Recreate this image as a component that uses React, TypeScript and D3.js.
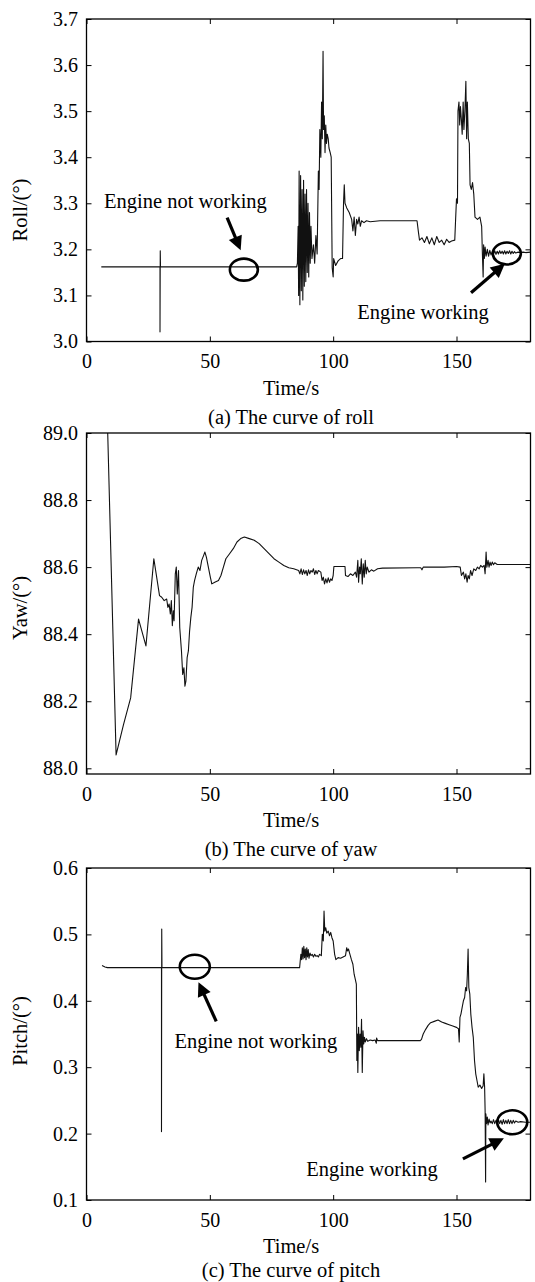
import React, { useEffect, useRef } from 'react';
import * as d3 from 'd3';

// tick values
const timeTicks = [0, 50, 100, 150];
const rollTicks = [3.0, 3.1, 3.2, 3.3, 3.4, 3.5, 3.6, 3.7];
const yawTicks = [88.0, 88.2, 88.4, 88.6, 88.8, 89.0];
const pitchTicks = [0.1, 0.2, 0.3, 0.4, 0.5, 0.6];

// [time (s), roll (deg)]
const rollSeries: [number, number][] = [
  [6, 3.162], [29.8, 3.162], [29.8, 3.021], [29.9, 3.197], [30, 3.162], [85.2, 3.162],
  [85.5, 3.17], [85.8, 3.25], [86.0, 3.1], [86.2, 3.37], [86.5, 3.08], [86.8, 3.36],
  [87.1, 3.11], [87.4, 3.33], [87.7, 3.09], [88.0, 3.35], [88.3, 3.12], [88.6, 3.32],
  [88.9, 3.13], [89.2, 3.33], [89.5, 3.15], [89.8, 3.3], [90.1, 3.14], [90.4, 3.28],
  [90.7, 3.17], [91.0, 3.25], [91.4, 3.18], [92.0, 3.21], [92.5, 3.17], [93.0, 3.23],
  [93.5, 3.19], [94.0, 3.37], [94.3, 3.33], [94.6, 3.46], [95.0, 3.4], [95.3, 3.52],
  [95.6, 3.44], [95.9, 3.63], [96.1, 3.46], [96.4, 3.49], [96.7, 3.41], [97.0, 3.47],
  [97.3, 3.43], [97.6, 3.45], [98.0, 3.44], [98.3, 3.42], [98.8, 3.41], [99.2, 3.4],
  [99.6, 3.16], [100, 3.14], [100.2, 3.18], [101, 3.165], [102, 3.175], [103, 3.18],
  [103.8, 3.18], [104.2, 3.3], [104.5, 3.34], [104.8, 3.3], [105.5, 3.29], [106.5, 3.28],
  [107.5, 3.265], [108, 3.24], [108.5, 3.27], [109, 3.23], [109.5, 3.265], [110, 3.255],
  [110.5, 3.27], [111, 3.25], [111.5, 3.262], [112.5, 3.258], [113.5, 3.262], [115, 3.26],
  [119, 3.262], [134, 3.262], [134.5, 3.24], [135, 3.22], [136, 3.225], [137, 3.215],
  [138, 3.228], [139, 3.212], [140, 3.225], [141, 3.21], [142, 3.228], [143, 3.215],
  [144, 3.22], [145, 3.21], [146, 3.222], [147, 3.215], [148, 3.218], [149.3, 3.22],
  [149.6, 3.26], [150.0, 3.31], [150.4, 3.3], [150.6, 3.5], [151, 3.52], [151.3, 3.47],
  [151.6, 3.51], [152, 3.48], [152.3, 3.45], [152.7, 3.52], [153, 3.46], [153.4, 3.5],
  [153.8, 3.565], [154.1, 3.44], [154.4, 3.52], [154.8, 3.44], [155.2, 3.43], [155.5, 3.34],
  [156, 3.33], [156.5, 3.345], [157, 3.32], [157.5, 3.27], [158.5, 3.265], [159.5, 3.27],
  [160.2, 3.25], [160.5, 3.19], [160.8, 3.14], [161.0, 3.21], [161.3, 3.18], [161.6, 3.205],
  [162, 3.185], [162.5, 3.2], [163, 3.185], [163.5, 3.198], [164, 3.188], [164.5, 3.195],
  [165, 3.19], [165.5, 3.197], [166, 3.189], [166.5, 3.196], [167, 3.19], [167.5, 3.197],
  [168, 3.191], [168.5, 3.196], [169, 3.19], [169.5, 3.197], [170, 3.19], [170.5, 3.196],
  [171, 3.191], [171.5, 3.197], [172, 3.19], [172.5, 3.196], [173, 3.191], [173.5, 3.195],
  [174, 3.192], [175, 3.194], [176, 3.193], [177, 3.194], [178, 3.193], [180, 3.194],
];

// [time (s), yaw (deg)]
const yawSeries: [number, number][] = [
  [8.6, 89.0], [12.0, 88.04], [15, 88.13], [17.9, 88.21], [21.1, 88.445], [24.1, 88.365],
  [27.3, 88.625], [29.6, 88.515], [30.5, 88.51], [31.5, 88.5], [32.5, 88.505], [33.0, 88.48],
  [33.5, 88.49], [34.0, 88.46], [34.4, 88.5], [34.8, 88.425], [35.2, 88.47], [35.5, 88.44],
  [36.0, 88.58], [36.4, 88.6], [36.8, 88.52], [37.3, 88.59], [37.8, 88.42], [38.5, 88.35],
  [39.0, 88.28], [39.5, 88.3], [39.9, 88.245], [40.3, 88.26], [40.8, 88.33], [41.3, 88.35],
  [41.8, 88.41], [42.3, 88.45], [42.8, 88.48], [43.3, 88.54], [43.8, 88.56], [44.5, 88.58],
  [45.3, 88.6], [46.0, 88.59], [46.7, 88.62], [47.5, 88.635], [48.0, 88.645], [48.6, 88.63],
  [49.4, 88.6], [50.2, 88.57], [50.8, 88.55], [52.0, 88.555], [53.5, 88.56], [54.5, 88.575],
  [55.5, 88.6], [56.5, 88.625], [58, 88.64], [59.5, 88.655], [61, 88.675], [62.5, 88.685],
  [64, 88.69], [66, 88.685], [68, 88.68], [70, 88.67], [72, 88.655], [74, 88.64],
  [76, 88.625], [78, 88.615], [80, 88.605], [82, 88.598], [84, 88.595], [86, 88.59],
  [86.5, 88.58], [87, 88.595], [87.5, 88.578], [88, 88.592], [88.5, 88.58], [89, 88.59],
  [89.5, 88.575], [90, 88.592], [90.5, 88.58], [91, 88.59], [91.5, 88.585], [92, 88.595],
  [92.5, 88.578], [93, 88.59], [93.5, 88.58], [94, 88.59], [95, 88.585], [95.5, 88.56],
  [96, 88.57], [96.5, 88.55], [97, 88.565], [97.5, 88.553], [98, 88.568], [98.5, 88.555],
  [99, 88.565], [99.5, 88.56], [100, 88.575], [100.3, 88.602], [104.8, 88.602], [105, 88.575],
  [106, 88.572], [107, 88.58], [108, 88.575], [109, 88.585], [109.5, 88.57], [110, 88.62],
  [110.3, 88.555], [110.7, 88.6], [111, 88.58], [111.4, 88.625], [111.8, 88.55], [112.2, 88.61],
  [112.6, 88.57], [113, 88.62], [113.4, 88.58], [113.8, 88.6], [114.5, 88.585], [115.5, 88.592],
  [116.5, 88.588], [118, 88.595], [120, 88.597], [134, 88.598], [135.5, 88.598], [136, 88.592],
  [136.5, 88.6], [145, 88.6], [150, 88.602], [151.5, 88.6], [152, 88.575], [152.8, 88.585],
  [153.3, 88.565], [153.8, 88.58], [154.3, 88.555], [154.7, 88.575], [155.2, 88.565], [155.7, 88.59],
  [156.3, 88.575], [157, 88.595], [157.8, 88.59], [158.5, 88.6], [159.2, 88.595], [159.8, 88.605],
  [160.5, 88.6], [161.2, 88.605], [161.6, 88.58], [162, 88.645], [162.3, 88.6], [162.8, 88.62],
  [163.2, 88.6], [163.6, 88.615], [164, 88.605], [164.5, 88.615], [165, 88.607], [165.5, 88.613],
  [166.5, 88.608], [180, 88.608],
];

// [time (s), pitch (deg)]
const pitchSeries: [number, number][] = [
  [6.3, 0.453], [7.5, 0.451], [8.5, 0.45], [30.4, 0.45], [30.4, 0.203], [30.5, 0.508],
  [30.6, 0.45], [86.4, 0.45], [86.6, 0.458], [86.9, 0.47], [87.2, 0.462], [87.5, 0.48],
  [87.8, 0.463], [88.1, 0.482], [88.4, 0.465], [88.7, 0.478], [89.0, 0.462], [89.3, 0.48],
  [89.6, 0.466], [89.9, 0.477], [90.2, 0.464], [90.6, 0.472], [91, 0.468], [91.5, 0.47],
  [92, 0.466], [92.5, 0.47], [93, 0.467], [93.5, 0.468], [94, 0.466], [94.5, 0.47],
  [95.2, 0.468], [95.6, 0.5], [96.0, 0.49], [96.3, 0.535], [96.6, 0.505], [97.0, 0.51],
  [97.4, 0.502], [98, 0.505], [98.5, 0.498], [99, 0.503], [99.5, 0.495], [100, 0.49],
  [100.6, 0.47], [101.1, 0.462], [102, 0.465], [103, 0.464], [104, 0.466], [105, 0.468],
  [105.5, 0.48], [105.8, 0.475], [106.2, 0.478], [106.8, 0.47], [107.4, 0.462], [108, 0.455],
  [108.5, 0.44], [109, 0.432], [109.4, 0.425], [109.6, 0.31], [109.8, 0.35], [110, 0.292],
  [110.3, 0.36], [110.6, 0.325], [110.9, 0.35], [111.2, 0.33], [111.5, 0.372], [111.8, 0.292],
  [112.1, 0.355], [112.4, 0.335], [112.7, 0.345], [113, 0.338], [113.5, 0.343], [114, 0.339],
  [115, 0.341], [116, 0.34], [117, 0.341], [117.5, 0.336], [117.6, 0.344], [118, 0.34],
  [135.3, 0.34], [135.8, 0.342], [136.5, 0.35], [137.5, 0.357], [138.5, 0.363], [139.5, 0.367],
  [141, 0.369], [142.5, 0.371], [144, 0.368], [145.5, 0.366], [147, 0.364], [148.5, 0.362],
  [150, 0.36], [150.8, 0.358], [151.1, 0.338], [151.4, 0.375], [151.8, 0.38], [152.3, 0.39],
  [152.8, 0.4], [153.3, 0.405], [153.7, 0.42], [154.1, 0.415], [154.4, 0.44], [154.7, 0.478],
  [155.0, 0.42], [155.4, 0.41], [155.8, 0.38], [156.3, 0.36], [156.8, 0.345], [157.3, 0.31],
  [157.8, 0.29], [158.3, 0.28], [158.8, 0.27], [159.5, 0.273], [160.2, 0.268], [160.8, 0.272],
  [161.1, 0.29], [161.4, 0.27], [161.6, 0.235], [161.8, 0.127], [161.9, 0.23], [162.2, 0.215],
  [162.5, 0.225], [162.8, 0.213], [163.2, 0.222], [163.6, 0.216], [164, 0.219], [164.5, 0.215],
  [165, 0.221], [165.5, 0.215], [166, 0.22], [166.5, 0.214], [167, 0.221], [167.5, 0.215],
  [168, 0.22], [168.5, 0.214], [169, 0.221], [169.5, 0.215], [170, 0.22], [170.5, 0.215],
  [171, 0.221], [171.5, 0.215], [172, 0.22], [172.5, 0.215], [173, 0.22], [173.5, 0.216],
  [174, 0.219], [175, 0.217], [176, 0.218], [178, 0.217], [180, 0.217],
];

// annotations, in data units: circle centres, arrows [tail, tip], text centres
const rollCircles: [number, number][] = [[63.8, 3.156], [170.4, 3.191]];
const rollArrows: [number, number][][] = [[[57.0, 3.269], [62.5, 3.198]], [[155.9, 3.106], [169.6, 3.169]]];
const rollNotes = [
  { text: 'Engine not working', t: 7.1, v: 3.306, anchor: 'start' },
  { text: 'Engine working', t: 136.4, v: 3.065, anchor: 'middle' },
];
const pitchCircles: [number, number][] = [[43.9, 0.4512], [172.6, 0.217]];
const pitchArrows: [number, number][][] = [[[52.6, 0.369], [45.4, 0.428]], [[152.6, 0.162], [169.2, 0.193]]];
const pitchNotes = [
  { text: 'Engine not working', t: 68.7, v: 0.34, anchor: 'middle' },
  { text: 'Engine working', t: 115.7, v: 0.147, anchor: 'middle' },
];

const FONT = '"Liberation Serif", "Times New Roman", Times, serif';

const App = () => {
  const ref = useRef<SVGSVGElement>(null);

  useEffect(() => {
    const svg = d3.select(ref.current);
    svg.selectAll('*').remove();

    const x = d3.scaleLinear().domain([0, 180]).range([86.5, 530.5]);

    const panels = [
      { id: 'roll', top: 19, bottom: 341.5, domain: [3.0, 3.7], ticks: rollTicks,
        label: 'Roll/(°)', labelY: 210, capY: 417, caption: '(a) The curve of roll', data: rollSeries,
        circles: rollCircles, arrows: rollArrows, notes: rollNotes, rx: 14, ry: 11 },
      { id: 'yaw', top: 433, bottom: 774, domain: [87.983, 89.0], ticks: yawTicks,
        label: 'Yaw/(°)', labelY: 608, capY: 849, caption: '(b) The curve of yaw', data: yawSeries,
        circles: [], arrows: [], notes: [], rx: 14, ry: 11 },
      { id: 'pitch', top: 868, bottom: 1200, domain: [0.1, 0.6], ticks: pitchTicks,
        label: 'Pitch/(°)', labelY: 1031, capY: 1270, caption: '(c) The curve of pitch', data: pitchSeries,
        circles: pitchCircles, arrows: pitchArrows, notes: pitchNotes, rx: 15, ry: 12 },
    ];

    panels.forEach((p) => {
      const y = d3.scaleLinear().domain(p.domain).range([p.bottom, p.top]);
      const g = svg.append('g');

      g.append('clipPath').attr('id', `clip-${p.id}`)
        .append('rect')
        .attr('x', x(0)).attr('y', p.top)
        .attr('width', x(180) - x(0)).attr('height', p.bottom - p.top);

      // curve
      const line = d3.line<[number, number]>().x((d) => x(d[0])).y((d) => y(d[1]));
      g.append('path')
        .datum(p.data)
        .attr('clip-path', `url(#clip-${p.id})`)
        .attr('d', line)
        .attr('fill', 'none')
        .attr('stroke', '#111')
        .attr('stroke-width', 1.1)
        .attr('stroke-linejoin', 'round');

      // axes, MATLAB style: ticks inside on all four sides
      const styleAxis = (sel) => {
        sel.select('.domain').remove();
        sel.selectAll('line').attr('stroke', '#000').attr('stroke-width', 1);
        sel.selectAll('text').attr('font-family', FONT).attr('font-size', 20).attr('fill', '#000');
      };
      g.append('g').attr('transform', `translate(0,${p.bottom})`)
        .call(d3.axisBottom(x).tickValues(timeTicks).tickSizeInner(-5).tickSizeOuter(0).tickPadding(12.4))
        .call(styleAxis);
      g.append('g').attr('transform', `translate(0,${p.top})`)
        .call(d3.axisTop(x).tickValues(timeTicks).tickSizeInner(-5).tickSizeOuter(0).tickFormat(() => ''))
        .call(styleAxis);
      g.append('g').attr('transform', `translate(${x(0)},0)`)
        .call(d3.axisLeft(y).tickValues(p.ticks).tickFormat(d3.format('.1f')).tickSizeInner(-5).tickSizeOuter(0).tickPadding(8.5))
        .call(styleAxis);
      g.append('g').attr('transform', `translate(${x(180)},0)`)
        .call(d3.axisRight(y).tickValues(p.ticks).tickSizeInner(-5).tickSizeOuter(0).tickFormat(() => ''))
        .call(styleAxis);

      g.append('rect')
        .attr('x', x(0)).attr('y', p.top)
        .attr('width', x(180) - x(0)).attr('height', p.bottom - p.top)
        .attr('fill', 'none').attr('stroke', '#000').attr('stroke-width', 1.3);

      // labels
      g.append('text')
        .attr('transform', `translate(27,${p.labelY}) rotate(-90)`)
        .attr('text-anchor', 'middle')
        .attr('font-family', FONT).attr('font-size', 20.5)
        .text(p.label);
      g.append('text')
        .attr('x', 291).attr('y', p.bottom + 46).attr('dy', '0.35em')
        .attr('text-anchor', 'middle')
        .attr('font-family', FONT).attr('font-size', 20.5)
        .text('Time/s');
      g.append('text')
        .attr('x', 291).attr('y', p.capY).attr('dy', '0.35em')
        .attr('text-anchor', 'middle')
        .attr('font-family', FONT).attr('font-size', 20.5)
        .text(p.caption);

      // annotations
      p.circles.forEach((c) => {
        g.append('ellipse')
          .attr('cx', x(c[0])).attr('cy', y(c[1]))
          .attr('rx', p.rx).attr('ry', p.ry)
          .attr('fill', 'none').attr('stroke', '#000').attr('stroke-width', 2.6);
      });
      p.arrows.forEach((a) => {
        const x0 = x(a[0][0]), y0 = y(a[0][1]);
        const x1 = x(a[1][0]), y1 = y(a[1][1]);
        const len = Math.hypot(x1 - x0, y1 - y0);
        const ux = (x1 - x0) / len, uy = (y1 - y0) / len;
        const hl = 14, hw = 7;
        const bx = x1 - ux * hl, by = y1 - uy * hl;
        g.append('line')
          .attr('x1', x0).attr('y1', y0).attr('x2', bx + ux * 2).attr('y2', by + uy * 2)
          .attr('stroke', '#000').attr('stroke-width', 3.2);
        g.append('polygon')
          .attr('points', [[x1, y1], [bx - uy * hw, by + ux * hw], [bx + uy * hw, by - ux * hw]].map((q) => q.join(',')).join(' '))
          .attr('fill', '#000');
      });
      p.notes.forEach((n) => {
        g.append('text')
          .attr('x', x(n.t)).attr('y', y(n.v)).attr('dy', '0.35em')
          .attr('text-anchor', n.anchor)
          .attr('font-family', FONT).attr('font-size', 20.5)
          .text(n.text);
      });
    });
  }, []);

  return (
    <svg
      ref={ref}
      width={535}
      height={1282}
      style={{ position: 'absolute', left: 0, top: 0, background: '#fff' }}
    />
  );
};

export default App;
